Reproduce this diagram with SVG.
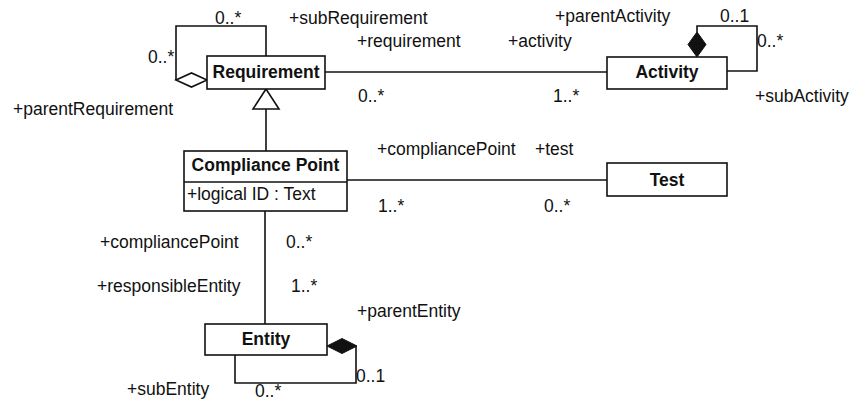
<svg xmlns="http://www.w3.org/2000/svg" width="852" height="400" viewBox="0 0 852 400">
<style>
text{font-family:"Liberation Sans",Arial,sans-serif;font-size:17.5px;fill:#111}
.b{font-weight:bold;text-anchor:middle}
.box{fill:#fff;stroke:#111;stroke-width:1.6}
.ln{fill:none;stroke:#111;stroke-width:1.6}
</style>
<rect width="852" height="400" fill="#fff"/>
<g id="connectors">
<path class="ln" d="M325,72 H607"/>
<path class="ln" d="M266,56 V26 H176 V80"/>
<path d="M176,80 L191.5,73 L207,80 L191.5,87 Z" fill="#fff" stroke="#111" stroke-width="1.6"/>
<path class="ln" d="M266,109 V151"/>
<path d="M266,89 L253,109 L279,109 Z" fill="#fff" stroke="#111" stroke-width="1.6"/>
<path class="ln" d="M697,32 V26 H757 V71 H727"/>
<path d="M697,32 L706,44.5 L697,57 L688,44.5 Z" fill="#111" stroke="#111" stroke-width="1"/>
<path class="ln" d="M347,180 H607"/>
<path class="ln" d="M265,211 V324"/>
<path class="ln" d="M356,346 V383 H235 V355"/>
<path d="M327,346 L342,338.5 L357,346 L342,353.5 Z" fill="#111" stroke="#111" stroke-width="1"/>
</g>
<g id="requirement">
<rect class="box" x="207" y="56" width="118" height="33"/>
<text class="b" x="266" y="78">Requirement</text>
</g>
<g id="activity">
<rect class="box" x="607" y="57" width="120" height="32"/>
<text class="b" x="667" y="78">Activity</text>
</g>
<g id="compliancePoint">
<rect class="box" x="184" y="151" width="163" height="60"/>
<path class="ln" d="M184,182 H347"/>
<text class="b" x="265.5" y="171">Compliance Point</text>
<text x="187" y="200">+logical ID : Text</text>
</g>
<g id="test">
<rect class="box" x="607" y="163" width="120" height="33"/>
<text class="b" x="667" y="186">Test</text>
</g>
<g id="entity">
<rect class="box" x="205" y="324" width="122" height="31"/>
<text class="b" x="266" y="345">Entity</text>
</g>
<g id="labels">
<text x="215" y="24">0..*</text>
<text x="289" y="24">+subRequirement</text>
<text x="148" y="63">0..*</text>
<text x="13" y="115">+parentRequirement</text>
<text x="357" y="47">+requirement</text>
<text x="555" y="22">+parentActivity</text>
<text x="508" y="47">+activity</text>
<text x="720" y="22">0..1</text>
<text x="757" y="47">0..*</text>
<text x="358" y="102">0..*</text>
<text x="553" y="102">1..*</text>
<text x="755" y="102">+subActivity</text>
<text x="377" y="155">+compliancePoint</text>
<text x="535" y="155">+test</text>
<text x="378" y="212">1..*</text>
<text x="544" y="212">0..*</text>
<text x="100" y="248">+compliancePoint</text>
<text x="286" y="248">0..*</text>
<text x="97" y="292">+responsibleEntity</text>
<text x="291" y="292">1..*</text>
<text x="357" y="317">+parentEntity</text>
<text x="356" y="382">0..1</text>
<text x="255" y="397">0..*</text>
<text x="127" y="395">+subEntity</text>
</g>
</svg>
